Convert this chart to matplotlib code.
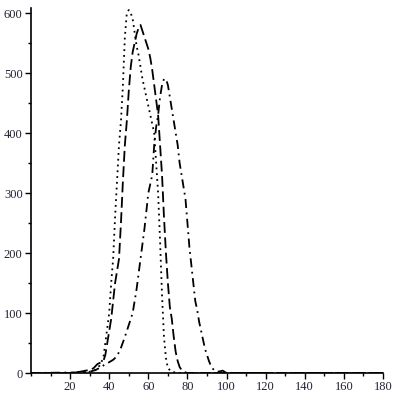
import numpy as np
import matplotlib
matplotlib.use("Agg")
import matplotlib.pyplot as plt
from matplotlib.ticker import MultipleLocator

plt.rcParams['font.family'] = ['Liberation Serif', 'DejaVu Serif']

# dotted curve
x_dot = [0, 20, 25, 30, 33, 35, 37, 38, 40, 41, 42, 43, 44, 45, 46, 47, 48, 49, 50,
         51, 52, 54, 55, 57, 59, 61, 63, 64, 65, 66, 67, 68, 69, 70, 72, 75, 180]
y_dot = [0, 0, 1, 2, 5, 12, 25, 50, 100, 150, 190, 260, 320, 380, 420, 480, 560, 600, 605,
         600, 590, 545, 530, 490, 460, 430, 400, 350, 300, 220, 130, 60, 25, 8, 2, 0, 0]

# dashed curve
x_dash = [0, 20, 25, 28, 30, 32, 34, 36, 37, 38, 39, 40, 41, 42, 43, 44, 45, 46, 47, 48,
          49, 50, 51, 52, 53, 54, 55, 56, 57, 58, 59, 60, 61, 62, 63, 64, 65, 66, 67, 68,
          69, 70, 71, 72, 73, 74, 75, 76, 77, 78, 80, 180]
y_dash = [0, 0, 2, 4, 5, 8, 15, 18, 20, 30, 50, 70, 90, 120, 150, 170, 190, 250, 320, 380,
          420, 470, 510, 535, 550, 565, 575, 580, 570, 560, 550, 540, 525, 505, 480, 455, 430, 380, 330, 260,
          200, 150, 110, 90, 60, 35, 20, 10, 5, 2, 0, 0]

# dash-dot curve
x_dd = [0, 25, 30, 33, 36, 38, 40, 42, 44, 46, 48, 50, 52, 54, 56, 58, 60, 62, 63, 64,
        65, 66, 67, 68, 69, 70, 71, 72, 73, 74, 75, 76, 77, 78, 79, 80, 81, 82, 83, 84,
        85, 86, 87, 88, 89, 90, 91, 92, 93, 94, 95, 97, 98, 99, 100, 180]
y_dd = [0, 1, 2, 5, 10, 15, 18, 22, 28, 42, 60, 80, 100, 140, 190, 240, 300, 330, 380, 410,
        430, 460, 480, 490, 490, 480, 460, 440, 420, 400, 380, 350, 330, 310, 290, 250, 210, 180, 150, 120,
        105, 85, 70, 55, 40, 30, 20, 12, 7, 4, 2, 3, 4, 2, 0, 0]

fig = plt.figure(figsize=(4, 4), dpi=100, facecolor='w')
ax = fig.add_axes([0.0775, 0.0675, 0.88, 0.912])

ax.plot(x_dot, y_dot, color='k', lw=1.3, linestyle=(0, (1, 2.2)))
ax.plot(x_dash, y_dash, color='k', lw=1.3, linestyle=(0, (6, 2.5)))
ax.plot(x_dd, y_dd, color='k', lw=1.3, linestyle=(0, (5, 2.5, 1, 2.5)))

ax.set_xlim(0, 180)
ax.set_ylim(0, 608)
for s in ['top', 'right']:
    ax.spines[s].set_visible(False)
for s in ['left', 'bottom']:
    ax.spines[s].set_linewidth(1.2)

ax.xaxis.set_major_locator(MultipleLocator(20))
ax.xaxis.set_minor_locator(MultipleLocator(10))
ax.yaxis.set_major_locator(MultipleLocator(100))
ax.yaxis.set_minor_locator(MultipleLocator(50))
ax.set_xticks([20, 40, 60, 80, 100, 120, 140, 160, 180])
ax.tick_params(which='major', length=4, width=1, labelsize=9, pad=2, colors='k')
ax.tick_params(which='minor', length=2.5, width=1)
ax.tick_params(axis='both', labelcolor='#222233')

fig.savefig('out.png', dpi=100)
